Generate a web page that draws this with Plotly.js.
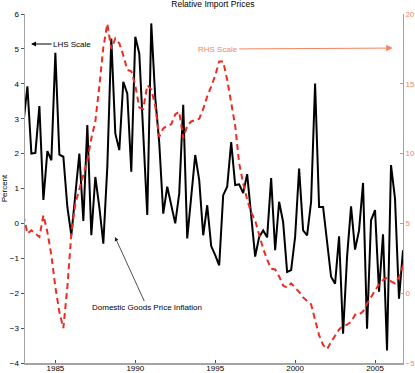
<!DOCTYPE html>
<html>
<head>
<meta charset="utf-8">
<script src="https://cdn.plot.ly/plotly-3.0.1.min.js"></script>
<style>
  html, body { margin: 0; padding: 0; background: #fff; }
  #chart { width: 415px; height: 373px; }
</style>
</head>
<body>
<div id="chart"></div>
<script>
// Quarterly observations, 1983Q1 .. 2006Q4
const firstYear = 1983;
const lastYear = 2006;

// Domestic goods price inflation (LHS, percent)
const domesticInflation = [
  2.87, 3.93, 2.00, 2.02, 3.36, 0.67, 2.07, 1.81,
  4.89, 1.97, 1.91, 0.47, -0.34, 0.80, 2.00, 0.07,
  2.82, -0.34, 1.33, 0.47, -0.58, 1.62, 5.30, 2.58,
  2.10, 4.06, 3.72, 1.48, 5.35, 4.87, 2.60, 0.24,
  5.73, 3.60, 2.30, 0.28, 1.05, 0.47, 0.00, 0.86,
  3.40, -0.43, 0.76, 1.96, 1.24, -0.34, 0.52, -0.65,
  -0.91, -1.20, 0.81, 1.05, 2.33, 1.10, 1.12, 0.87,
  1.41, 0.28, -0.95, -0.39, -0.20, -0.40, 1.30, -0.77,
  0.62, 0.04, -1.39, -1.34, -0.39, 1.57, -0.20, -0.34,
  0.62, 4.01, 0.47, 0.47, -0.58, -1.53, -1.73, -0.37,
  -3.16, -0.96, 0.49, -0.75, -0.20, 1.16, -3.02, 0.09,
  0.38, -1.96, -0.31, -3.64, 1.67, 0.71, -2.16, -0.77
];

// Relative import prices (RHS)
const relativeImportPrices = [
  5.58, 4.27, 4.50, 4.29, 4.03, 5.58, 4.39, 2.72,
  0.45, -1.35, -2.50, 0.45, 4.27, 6.42, 7.50, 8.57,
  9.50, 11.10, 12.30, 14.80, 17.60, 19.30, 17.50, 18.25,
  17.90, 17.05, 16.00, 15.90, 14.90, 13.30, 13.20, 14.90,
  14.60, 13.40, 11.20, 11.80, 12.00, 12.10, 12.80, 13.00,
  11.10, 12.00, 12.30, 12.40, 12.50, 13.20, 14.10, 14.80,
  15.60, 16.60, 16.60, 15.30, 13.60, 12.00, 9.30, 7.86,
  6.70, 5.80, 5.20, 4.20, 3.20, 2.40, 1.75, 1.70,
  1.20, 0.55, 0.40, 0.70, 0.40, 0.10, -0.30, -0.55,
  -0.80, -1.90, -3.00, -3.70, -4.00, -3.50, -3.00, -2.60,
  -2.35, -2.25, -2.05, -1.55, -1.55, -1.30, -0.75, -0.27,
  0.25, 0.65, 0.95, 1.10, 0.85, 0.70, 1.16, 1.95
];

const xTickValues = [1985, 1990, 1995, 2000, 2005];
const leftTickValues = [-4, -3, -2, -1, 0, 1, 2, 3, 4, 5, 6];
const rightTickValues = [-5, 0, 5, 10, 15, 20];

const quarters = [];
for (let y = firstYear; y <= lastYear; y++) {
  for (let q = 0; q < 4; q++) quarters.push(y + q * 0.25);
}

const salmon = '#f5845f';
const red = '#ee2a22';
const gray = '#a3a3a3';
const fontFamily = 'Liberation Sans, Arial, sans-serif';

const traces = [
  {
    x: quarters, y: domesticInflation, type: 'scatter', mode: 'lines',
    name: 'Domestic Goods Price Inflation',
    line: { color: '#000000', width: 2 }, yaxis: 'y'
  },
  {
    x: quarters, y: relativeImportPrices, type: 'scatter', mode: 'lines',
    name: 'Relative Import Prices',
    line: { color: red, width: 2, dash: '6px,4px' }, yaxis: 'y2'
  }
];

const layout = {
  width: 415, height: 373,
  margin: { l: 25, r: 12, t: 14, b: 10, pad: 0 },
  paper_bgcolor: '#ffffff', plot_bgcolor: '#ffffff',
  showlegend: false,
  font: { family: fontFamily, size: 8, color: '#000' },
  title: {
    text: 'Relative Import Prices',
    font: { family: fontFamily, size: 8.5, color: '#000' },
    x: 0.513, xanchor: 'center', y: 0.988, yanchor: 'middle'
  },
  xaxis: {
    range: [1983.1, 2006.75],
    tickvals: xTickValues, ticktext: xTickValues.map(String),
    ticks: 'inside', ticklen: 3, tickcolor: '#555', tickwidth: 1,
    ticklabelstandoff: -3,
    showline: true, linecolor: gray, linewidth: 1.5,
    showgrid: false, zeroline: false,
    tickfont: { family: fontFamily, size: 8, color: '#000' }
  },
  yaxis: {
    range: [-4, 6],
    tickvals: leftTickValues,
    ticks: 'outside', ticklen: 3, tickcolor: '#555', tickwidth: 1,
    showline: true, linecolor: gray, linewidth: 1.5,
    showgrid: false, zeroline: false,
    tickfont: { family: fontFamily, size: 8, color: '#000' },
    title: { text: 'Percent', standoff: 2, font: { family: fontFamily, size: 8, color: '#000' } },
    automargin: false
  },
  yaxis2: {
    range: [-5, 20], overlaying: 'y', side: 'right',
    tickvals: rightTickValues,
    ticks: 'inside', ticklen: 3, tickcolor: salmon, tickwidth: 1,
    showline: true, linecolor: salmon, linewidth: 1,
    showgrid: false, zeroline: false,
    tickfont: { family: fontFamily, size: 8, color: salmon },
    automargin: false
  },
  annotations: [
    {
      text: 'LHS Scale', xref: 'x', yref: 'y', x: 1983.48, y: 5.14,
      ax: 41, ay: 0, showarrow: true, arrowhead: 2, arrowsize: 1, arrowwidth: 1,
      arrowcolor: '#000', font: { family: fontFamily, size: 8, color: '#000' }
    },
    {
      text: 'RHS Scale', xref: 'x', yref: 'y2', x: 2006.11, y: 17.56,
      ax: -175, ay: 1, showarrow: true, arrowhead: 2, arrowsize: 1.3, arrowwidth: 1,
      arrowcolor: salmon, font: { family: fontFamily, size: 8, color: salmon }
    },
    {
      text: 'Domestic Goods Price Inflation', xref: 'x', yref: 'y', x: 1988.73, y: -0.39,
      ax: 32, ay: 70, showarrow: true, arrowhead: 2, arrowsize: 1, arrowwidth: 0.8,
      arrowcolor: '#222', font: { family: fontFamily, size: 8, color: '#000' }
    }
  ]
};

Plotly.newPlot('chart', traces, layout, { displayModeBar: false, staticPlot: true });
</script>
</body>
</html>
